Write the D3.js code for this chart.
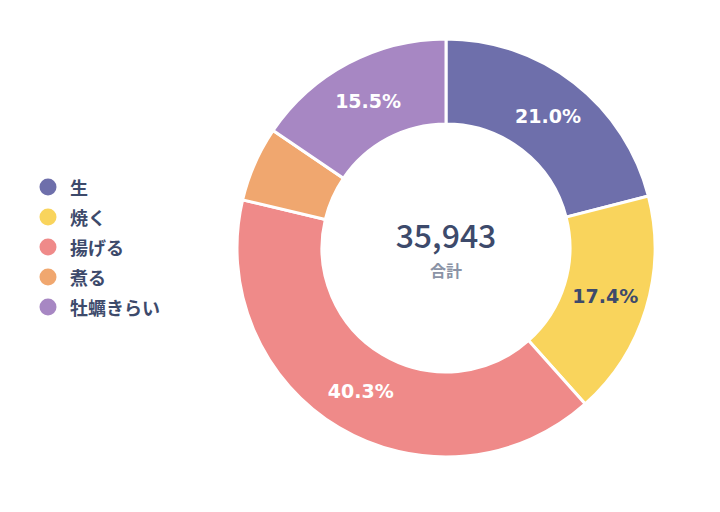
<!DOCTYPE html>
<html>
<head>
<meta charset="utf-8">
<script src="https://cdn.jsdelivr.net/npm/d3@7"></script>
<style>
  body { margin: 0; background: #fff; }
  svg { display: block; }
</style>
</head>
<body>
<script>
const categories = ['生', '焼く', '揚げる', '煮る', '牡蠣きらい'];
const values = [7548, 6254, 14485, 2085, 5571];
const colors = ['#6e6fab', '#f9d45c', '#ef8a89', '#f0a76f', '#a787c3'];
const labelColors = ['#ffffff', '#3d4a6b', '#ffffff', '#ffffff', '#ffffff'];

const width = 720;
const height = 512;
const cx = 446, cy = 248;
const outerR = 209, innerR = 124;

const total = d3.sum(values);
const data = categories.map((c, i) => ({ name: c, value: values[i], i: i }));

const svg = d3.select('body')
    .append('svg')
    .attr('width', width)
    .attr('height', height);

const pie = d3.pie()
    .sort(null)
    .value((d) => d.value);

const arc = d3.arc()
    .innerRadius(innerR)
    .outerRadius(outerR);

const g = svg.append('g')
    .attr('transform', 'translate(' + cx + ',' + cy + ')');

const arcs = pie(data);

g.selectAll('path')
    .data(arcs)
    .enter()
    .append('path')
    .attr('d', arc)
    .style('fill', (d) => colors[d.data.i])
    .style('stroke', '#fff')
    .style('stroke-width', 3);

g.selectAll('text.pct')
    .data(arcs.filter((d) => d.data.value / total >= 0.1))
    .enter()
    .append('text')
    .attr('class', 'pct')
    .attr('transform', (d) => 'translate(' + arc.centroid(d) + ')')
    .attr('text-anchor', 'middle')
    .attr('dominant-baseline', 'central')
    .style('font-family', '"DejaVu Sans", Verdana, sans-serif')
    .style('font-weight', 'bold')
    .style('font-size', '19px')
    .style('fill', (d) => labelColors[d.data.i])
    .text((d) => d3.format('.1%')(d.data.value / total));

g.append('text')
    .attr('x', 0)
    .attr('y', -14)
    .attr('text-anchor', 'middle')
    .attr('dominant-baseline', 'central')
    .style('font-family', '"Noto Sans CJK JP", "DejaVu Sans", sans-serif')
    .style('font-weight', 500)
    .style('font-size', '32px')
    .style('fill', '#3d4a6b')
    .text(d3.format(',')(total));

g.append('text')
    .attr('x', 0)
    .attr('y', 22)
    .attr('text-anchor', 'middle')
    .attr('dominant-baseline', 'central')
    .style('font-family', '"Noto Sans CJK JP", sans-serif')
    .style('font-weight', 'bold')
    .style('font-size', '16px')
    .style('fill', '#8a93a6')
    .text('合計');

// legend
const legendY = d3.scalePoint()
    .domain(categories)
    .range([187, 307]);

const legend = svg.selectAll('g.legend')
    .data(data)
    .enter()
    .append('g')
    .attr('class', 'legend')
    .attr('transform', (d) => 'translate(48,' + legendY(d.name) + ')');

legend.append('circle')
    .attr('r', 8.5)
    .style('fill', (d) => colors[d.i]);

legend.append('text')
    .attr('x', 22)
    .attr('dominant-baseline', 'central')
    .style('font-family', '"Noto Sans CJK JP", sans-serif')
    .style('font-weight', 'bold')
    .style('font-size', '18px')
    .style('fill', '#3d4a6b')
    .text((d) => d.name);
</script>
</body>
</html>
